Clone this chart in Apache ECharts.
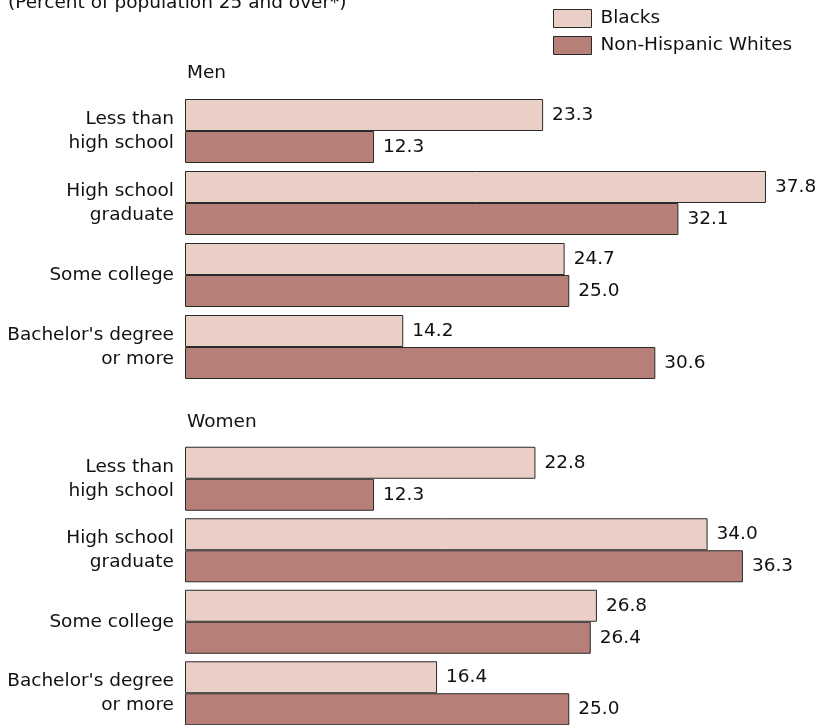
<!DOCTYPE html>
<html>
<head>
<meta charset="utf-8">
<script src="https://cdn.jsdelivr.net/npm/echarts@6/dist/echarts.min.js"></script>
<style>html,body{margin:0;padding:0;background:#fff}#c{width:820px;height:725px}</style>
</head>
<body>
<div id="c"></div>
<script>
var categories = ["Less than\nhigh school", "High school\ngraduate", "Some college", "Bachelor's degree\nor more"];
var seriesNames = ["Blacks", "Non-Hispanic Whites"];
var menBlacks = [23.3, 37.8, 24.7, 14.2];
var menWhites = [12.3, 32.1, 25.0, 30.6];
var womenBlacks = [22.8, 34.0, 26.8, 16.4];
var womenWhites = [12.3, 36.3, 26.4, 25.0];
var groupTitles = ["Men", "Women"];
var subtitleText = "(Percent of population 25 and over*)";

var FONT = "DejaVu Sans";
var FS = 18.5;
var colors = ["#eacfc6", "#b68079"];
var chart = echarts.init(document.getElementById('c'));

function yAx(gi) {
  return {
    type: 'category', gridIndex: gi, data: categories, inverse: true,
    axisLine: {show: false}, axisTick: {show: false},
    axisLabel: {color: '#111', fontSize: FS, fontFamily: FONT, lineHeight: 24, margin: 11, align: 'right'}
  };
}
function xAx(gi) {
  return {type: 'value', gridIndex: gi, min: 0, max: 40, show: false};
}
function ser(name, data, gi, ci) {
  return {
    name: name, type: 'bar', xAxisIndex: gi, yAxisIndex: gi, data: data,
    barWidth: 32, barGap: '0%',
    itemStyle: {color: colors[ci], borderColor: '#2a2a2a', borderWidth: 1},
    label: {show: true, position: 'right', distance: 9, color: '#111', fontSize: FS, fontFamily: FONT,
      formatter: function (p) { return p.value.toFixed(1); }},
    animation: false
  };
}

chart.setOption({
  animation: false,
  textStyle: {fontFamily: FONT},
  graphic: [{
    type: 'text', left: 8, top: -6,
    style: {text: subtitleText, fontSize: FS, fontFamily: FONT, fill: '#111'}
  }],
  title: [
    {text: groupTitles[0], left: 182, top: 59, textStyle: {fontSize: FS, fontWeight: 'normal', color: '#111', fontFamily: FONT}},
    {text: groupTitles[1], left: 182, top: 408, textStyle: {fontSize: FS, fontWeight: 'normal', color: '#111', fontFamily: FONT}}
  ],
  legend: {
    orient: 'vertical', left: 553, top: 9, padding: 0, itemWidth: 38, itemHeight: 18, itemGap: 8,
    data: seriesNames, icon: 'rect',
    itemStyle: {borderColor: '#2a2a2a', borderWidth: 1},
    textStyle: {fontSize: FS, color: '#111', fontFamily: FONT, lineHeight: 18, padding: [0, 0, 0, 4]}
  },
  grid: [
    {left: 185, top: 95, height: 288, width: 614.8, outerBoundsMode: 'none'},
    {left: 185, top: 443, height: 286, width: 614.8, outerBoundsMode: 'none'}
  ],
  xAxis: [xAx(0), xAx(1)],
  yAxis: [yAx(0), yAx(1)],
  series: [
    ser(seriesNames[0], menBlacks, 0, 0),
    ser(seriesNames[1], menWhites, 0, 1),
    ser(seriesNames[0], womenBlacks, 1, 0),
    ser(seriesNames[1], womenWhites, 1, 1)
  ]
});
</script>
</body>
</html>
